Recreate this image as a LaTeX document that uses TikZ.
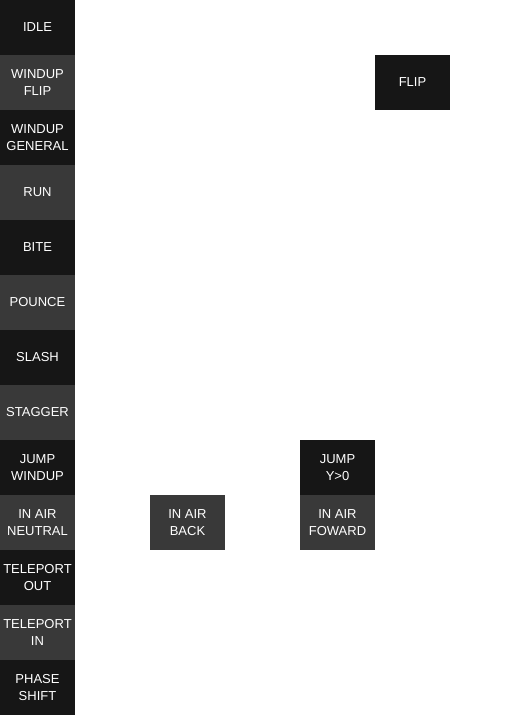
\documentclass[tikz,border=0pt]{standalone}
\usepackage{fontspec}
\setmainfont{Liberation Sans}
\definecolor{darkbox}{HTML}{161616}
\definecolor{lightbox}{HTML}{393939}
\begin{document}
\begin{tikzpicture}[x=1pt,y=-1pt]

      \useasboundingbox (0,0) rectangle (525,715);

      \begin{scope}[every node/.style={rectangle,minimum width=75pt,minimum height=55pt,
          inner sep=0pt,outer sep=0pt,text=white,align=center,
          font=\fontsize{13}{17}\selectfont}]
        \node[fill=darkbox]  (idle)     at (37.5,27.5)  {IDLE};
        \node[fill=lightbox] (windflip) at (37.5,82.5)  {WINDUP\\FLIP};
        \node[fill=darkbox]  (windgen)  at (37.5,137.5) {WINDUP\\GENERAL};
        \node[fill=lightbox] (run)      at (37.5,192.5) {RUN};
        \node[fill=darkbox]  (bite)     at (37.5,247.5) {BITE};
        \node[fill=lightbox] (pounce)   at (37.5,302.5) {POUNCE};
        \node[fill=darkbox]  (slash)    at (37.5,357.5) {SLASH};
        \node[fill=lightbox] (stagger)  at (37.5,412.5) {STAGGER};
        \node[fill=darkbox]  (jumpwind) at (37.5,467.5) {JUMP\\WINDUP};
        \node[fill=lightbox] (airneut)  at (37.5,522.5) {IN AIR\\NEUTRAL};
        \node[fill=darkbox]  (telout)   at (37.5,577.5) {TELEPORT\\OUT};
        \node[fill=lightbox] (telin)    at (37.5,632.5) {TELEPORT\\IN};
        \node[fill=darkbox]  (phase)    at (37.5,687.5) {PHASE\\SHIFT};

        \node[fill=darkbox]  (flip)     at (412.5,82.5) {FLIP};
        \node[fill=darkbox]  (jumpup)   at (337.5,467.5) {JUMP\\Y>0};
        \node[fill=lightbox] (airfwd)   at (337.5,522.5) {IN AIR\\FOWARD};
        \node[fill=lightbox] (airback)  at (187.5,522.5) {IN AIR\\BACK};
      \end{scope}

    \end{tikzpicture}
\end{document}
